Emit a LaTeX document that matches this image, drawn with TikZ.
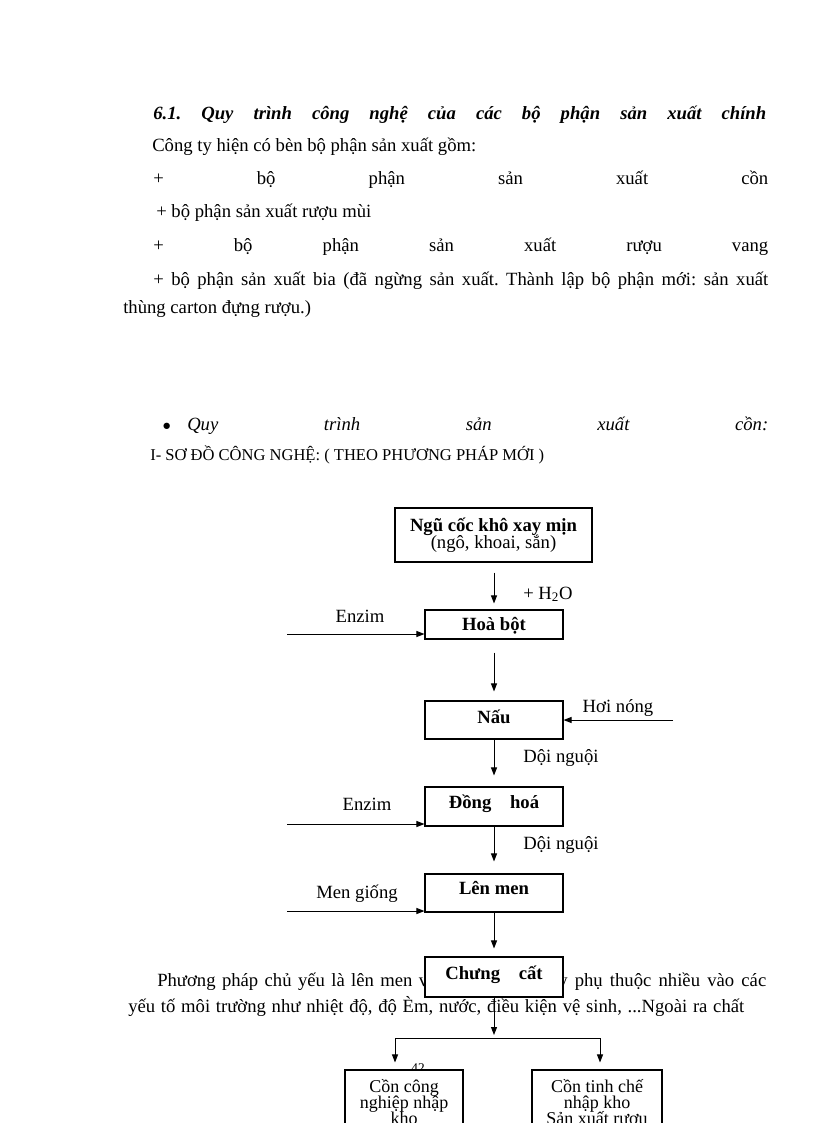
\documentclass[tikz,border=0pt]{standalone}
\usepackage{fontspec}
\setmainfont{Liberation Serif}
\usetikzlibrary{arrows.meta}
\frenchspacing
\begin{document}
\begin{tikzpicture}[x=0.75pt,y=-0.75pt,
  txt/.style={anchor=base west, inner sep=0, font=\fontsize{14}{16}\selectfont},
  lbl/.style={anchor=base, inner sep=0, font=\fontsize{14}{16}\selectfont},
  slbl/.style={anchor=base, inner sep=0, font=\fontsize{13.5}{15}\selectfont},
  btxt/.style={anchor=base, inner sep=0, font=\fontsize{14}{16}\selectfont\bfseries},
  bx/.style 2 args={draw, line width=0.8pt, fill=white, inner sep=0,
    minimum width=#1*0.75pt, minimum height=#2*0.75pt},
  arr/.style={line width=0.75pt, -{Triangle[length=6pt,width=4.5pt]}},
  ln/.style={line width=0.75pt}
]
\useasboundingbox (0,0) rectangle (816,1123);
\clip (0,0) rectangle (816,1123);
\fill[white] (0,0) rectangle (816,1123);

% ---- top text ----
\node[txt, font=\fontsize{14}{16}\selectfont\bfseries\itshape] (t1) at (153,120)
  {\makebox[459.75pt][s]{6.1. Quy trình công nghệ của các bộ phận sản xuất chính}};
\node[txt] (t2) at (152,152) {Công ty hiện có bèn bộ phận sản xuất gồm:};
\node[txt] (t3) at (153,185) {\makebox[461.25pt][s]{+ bộ phận sản xuất cồn}};
\node[txt] (t4) at (156,218) {+ bộ phận sản xuất rượu mùi};
\node[txt] (t5) at (153,252) {\makebox[461.25pt][s]{+ bộ phận sản xuất rượu vang}};
\node[txt] (t6) at (153,285) {\makebox[461.25pt][s]{+ bộ phận sản xuất bia (đã ngừng sản xuất. Thành lập bộ phận mới: sản xuất}};
\node[txt] (t7) at (123,313) {thùng carton đựng rượu.)};

\node[txt, font=\fontsize{11}{12}\selectfont] (bul) at (162,430) {●};
\node[txt, font=\fontsize{14}{16}\selectfont\itshape] (t8) at (187,430)
  {\makebox[435.75pt][s]{Quy trình sản xuất cồn:}};
\node[txt, font=\fontsize{12.4}{14}\selectfont] (t9) at (150,460)
  {I- SƠ ĐỒ CÔNG NGHỆ: ( THEO PHƯƠNG PHÁP MỚI )};

% ---- paragraph behind the diagram ----
\node[txt] (p1a) at (157,986) {\makebox[203.25pt][s]{Phương pháp chủ yếu là lên men v}};
\node[txt] (p1b) at (558,986) {\makebox[156pt][s]{y phụ thuộc nhiều vào các}};
\node[txt] (p2) at (128,1012) {\makebox[462pt][s]{yếu tố môi trường như nhiệt độ, độ Èm, nước, điều kiện vệ sinh, ...Ngoài ra chất}};
\node[anchor=north, inner sep=0, font=\fontsize{10}{11}\selectfont] (pg) at (418,1063) {42};

% ---- boxes ----
\node[bx={197}{54}] (b1) at (493.5,535) {};
\node[btxt] at (493.5,531) {Ngũ cốc khô xay mịn};
\node[lbl] at (493.5,548) {(ngô, khoai, sắn)};

\node[bx={138}{29}] (b2) at (494,624.5) {};
\node[btxt] at (494,630) {Hoà bột};

\node[bx={138}{38}] (b3) at (494,720) {};
\node[btxt] at (494,723) {Nấu};

\node[bx={138}{39}] (b4) at (494,806.5) {};
\node[btxt] at (494,808) {Đồng\quad hoá};

\node[bx={138}{38}] (b5) at (494,893) {};
\node[btxt] at (494,894) {Lên men};

\node[bx={138}{40}] (b6) at (494,977) {};
\node[btxt] at (494,979) {Chưng\quad cất};

\node[bx={118}{80}] (b7) at (404,1110) {};
\node[slbl] at (404,1092) {Cồn công};
\node[slbl] at (404,1108) {nghiệp nhập};
\node[slbl] at (404,1124) {kho};

\node[bx={130}{80}] (b8) at (597,1110) {};
\node[slbl] at (597,1092) {Cồn tinh chế};
\node[slbl] at (597,1108) {nhập kho};
\node[slbl] at (597,1124) {Sản xuất rượu};

% ---- labels ----
\node[txt] (lh2o) at (523,599) {+ H\textsubscript{2}O};
\node[lbl] (le1) at (360,622) {Enzim};
\node[lbl] (lhn) at (618,712) {Hơi nóng};
\node[lbl] (ld1) at (561,762) {Dội nguội};
\node[lbl] (le2) at (367,810) {Enzim};
\node[lbl] (ld2) at (561,849) {Dội nguội};
\node[lbl] (lmg) at (357,898) {Men giống};

% ---- connectors ----
\draw[arr, shorten <=7.5pt, shorten >=4.5pt] (b2.north |- b1.south) -- (b2.north);
\draw[arr, shorten <=9.75pt, shorten >=6.75pt] (b2.south) -- (b3.north);
\draw[arr, shorten >=8.25pt] (b3.south) -- (b4.north);
\draw[arr, shorten >=9pt] (b4.south) -- (b5.north);
\draw[arr, shorten >=6pt] (b5.south) -- (b6.north);

\coordinate (e1) at (287,634);
\draw[arr] (e1) -- (e1 -| b2.west);
\coordinate (h1) at (673,720);
\draw[arr] (h1) -- (h1 -| b3.east);
\coordinate (e2) at (287,824);
\draw[arr] (e2) -- (e2 -| b4.west);
\coordinate (m1) at (287,911);
\draw[arr] (m1) -- (m1 -| b5.west);

\coordinate (sp) at (494,1038);
\coordinate (sl) at (395,1038);
\coordinate (sr) at (600,1038);
\draw[arr, shorten >=2.25pt] (b6.south) -- (sp);
\draw[ln] (sl) -- (sr);
\draw[arr, shorten >=5.25pt] (sl) -- (sl |- b7.north);
\draw[arr, shorten >=5.25pt] (sr) -- (sr |- b8.north);
\end{tikzpicture}
\end{document}
